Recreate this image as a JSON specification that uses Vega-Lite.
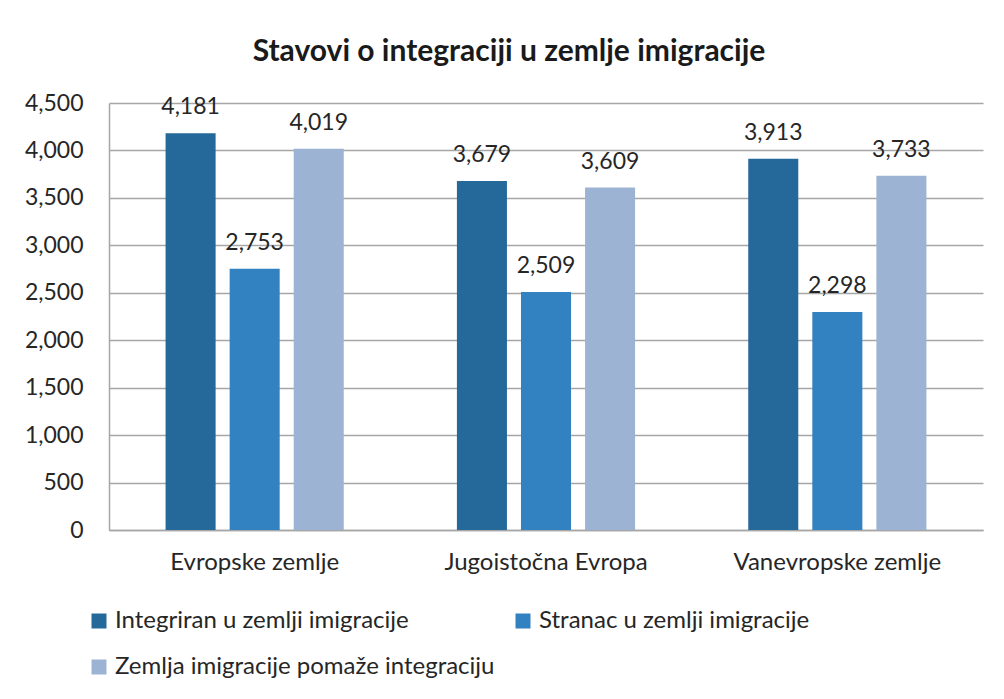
{
  "$schema": "https://vega.github.io/schema/vega-lite/v6.json",
  "autosize": {"type": "none"},
  "width": 874,
  "height": 427,
  "padding": {"left": 109, "top": 103, "right": 21, "bottom": 169},
  "background": "white",
  "title": {
    "text": "Stavovi o integraciji u zemlje imigracije",
    "font": "Lato",
    "fontSize": 30,
    "fontWeight": "bold",
    "color": "#1a1a1a",
    "anchor": "middle",
    "dx": -37,
    "offset": 25
  },
  "data": {
    "values": [
      {"region": "Evropske zemlje", "series": "Integriran u  zemlji imigracije", "value": 4181},
      {"region": "Evropske zemlje", "series": "Stranac u zemlji imigracije", "value": 2753},
      {"region": "Evropske zemlje", "series": "Zemlja imigracije pomaže integraciju", "value": 4019},
      {"region": "Jugoistočna Evropa", "series": "Integriran u  zemlji imigracije", "value": 3679},
      {"region": "Jugoistočna Evropa", "series": "Stranac u zemlji imigracije", "value": 2509},
      {"region": "Jugoistočna Evropa", "series": "Zemlja imigracije pomaže integraciju", "value": 3609},
      {"region": "Vanevropske zemlje", "series": "Integriran u  zemlji imigracije", "value": 3913},
      {"region": "Vanevropske zemlje", "series": "Stranac u zemlji imigracije", "value": 2298},
      {"region": "Vanevropske zemlje", "series": "Zemlja imigracije pomaže integraciju", "value": 3733}
    ]
  },
  "encoding": {
    "x": {
      "field": "region",
      "type": "nominal",
      "sort": null,
      "scale": {"paddingInner": 0, "paddingOuter": 0},
      "axis": {
        "title": null,
        "labelAngle": 0,
        "labelFont": "Lato",
        "labelFontSize": 24,
        "labelColor": "#262626",
        "labelPadding": 20,
        "labelLimit": 400,
        "ticks": false,
        "domainColor": "#a6a6a6",
        "domainWidth": 1.5
      }
    },
    "xOffset": {
      "field": "series",
      "type": "nominal",
      "sort": null,
      "scale": {"paddingInner": 0.219, "paddingOuter": 0.883}
    },
    "y": {
      "field": "value",
      "type": "quantitative",
      "scale": {"domain": [0, 4500], "nice": false},
      "axis": {
        "title": null,
        "values": [0, 500, 1000, 1500, 2000, 2500, 3000, 3500, 4000, 4500],
        "format": ",d",
        "labelFont": "Lato",
        "labelFontSize": 23,
        "labelColor": "#262626",
        "labelPadding": 26,
        "ticks": false,
        "grid": true,
        "gridColor": "#a6a6a6",
        "gridWidth": 1.5,
        "domain": true,
        "domainColor": "#a6a6a6",
        "domainWidth": 1.5
      }
    }
  },
  "layer": [
    {
      "mark": {"type": "bar"},
      "encoding": {
        "color": {
          "field": "series",
          "type": "nominal",
          "sort": null,
          "scale": {"range": ["#24699a", "#3281c0", "#9db3d3"]},
          "legend": {
            "title": null,
            "orient": "none",
            "legendX": -22,
            "legendY": 506,
            "direction": "horizontal",
            "columns": 2,
            "columnPadding": 16,
            "rowPadding": 22,
            "symbolType": "square",
            "symbolSize": 225,
            "symbolStrokeWidth": 0,
            "symbolOffset": 0,
            "labelFont": "Lato",
            "labelFontSize": 24,
            "labelColor": "#262626",
            "labelOffset": 4,
            "labelLimit": 700
          }
        }
      }
    },
    {
      "mark": {
        "type": "text",
        "baseline": "bottom",
        "dy": -14,
        "font": "Lato",
        "fontSize": 23,
        "color": "#262626"
      },
      "encoding": {
        "text": {"field": "value", "type": "quantitative", "format": ",d"}
      }
    }
  ],
  "config": {"view": {"stroke": null}}
}
